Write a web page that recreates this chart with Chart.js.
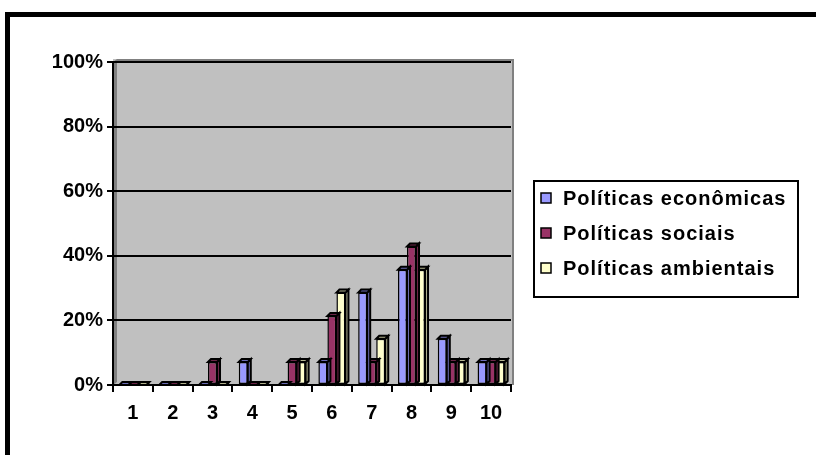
<!doctype html>
<html>

<head>
	<title>Políticas</title>
	<script src="https://cdn.jsdelivr.net/npm/chart.js@4/dist/chart.umd.min.js"></script>
	<style>
	body {
		margin: 0;
		background: #fff;
		overflow: hidden;
	}
	#frame {
		position: absolute;
		left: 5px;
		top: 12px;
		width: 900px;
		height: 600px;
		border: 5px solid #000;
	}
	#wrap {
		position: absolute;
		left: 0;
		top: 0;
		width: 816px;
		height: 455px;
	}
	</style>
</head>

<body>
	<div id="frame"></div>
	<div id="wrap"><canvas id="canvas" width="816" height="455"></canvas></div>
	<script>
		const categories = ['1', '2', '3', '4', '5', '6', '7', '8', '9', '10'];
		const economicas = [0, 0, 0, 7.1, 0, 7.1, 28.6, 35.7, 14.3, 7.1];
		const sociais = [0, 0, 7.1, 0, 7.1, 21.4, 7.1, 42.9, 7.1, 7.1];
		const ambientais = [0, 0, 0, 0, 7.1, 28.6, 14.3, 35.7, 7.1, 7.1];
		const seriesLabels = ['Políticas econômicas', 'Políticas sociais', 'Políticas ambientais'];
		const seriesColors = ['#9999FF', '#993366', '#FFFFCC'];

		const FONT = '"Liberation Sans", Arial, sans-serif';

		function shade(hex, f) {
			const n = parseInt(hex.slice(1), 16);
			const r = Math.round(((n >> 16) & 255) * f);
			const g = Math.round(((n >> 8) & 255) * f);
			const b = Math.round((n & 255) * f);
			return 'rgb(' + r + ',' + g + ',' + b + ')';
		}

		// grey walls behind the plot, like the old 3D column charts
		const wallPlugin = {
			id: 'wall',
			beforeDraw(chart) {
				const {ctx, chartArea: a} = chart;
				const d = 4;
				ctx.save();
				ctx.fillStyle = '#C0C0C0';
				ctx.fillRect(a.left, a.top - 3, a.right - a.left + 2, a.bottom - a.top + 3);
				ctx.fillStyle = '#808080';
				ctx.beginPath();
				ctx.moveTo(a.left, a.top);
				ctx.lineTo(a.left + d, a.top - 3);
				ctx.lineTo(a.left + d, a.bottom - 3);
				ctx.lineTo(a.left, a.bottom);
				ctx.closePath();
				ctx.fill();
				ctx.strokeStyle = '#808080';
				ctx.lineWidth = 2;
				ctx.beginPath();
				ctx.moveTo(a.left + d, a.top - 2);
				ctx.lineTo(a.right + 2, a.top - 2);
				ctx.lineTo(a.right + 2, a.bottom);
				ctx.stroke();
				ctx.restore();
			}
		};

		// top and side faces of each column
		const depthPlugin = {
			id: 'depth',
			afterDatasetDraw(chart, args) {
				const ctx = chart.ctx;
				const d = 3;
				const col = chart.data.datasets[args.index].backgroundColor;
				const dark = shade(col, 0.7);
				ctx.save();
				ctx.lineWidth = 2;
				ctx.strokeStyle = '#000';
				ctx.lineJoin = 'miter';
				args.meta.data.forEach(bar => {
					const p = bar.getProps(['x', 'y', 'base', 'width'], true);
					const l = p.x - p.width / 2;
					const r = p.x + p.width / 2;
					ctx.fillStyle = dark;
					ctx.beginPath();
					ctx.moveTo(r, p.y);
					ctx.lineTo(r + d, p.y - d);
					ctx.lineTo(r + d, p.base - d);
					ctx.lineTo(r, p.base);
					ctx.closePath();
					ctx.fill();
					ctx.stroke();
					ctx.beginPath();
					ctx.moveTo(l, p.y);
					ctx.lineTo(l + d, p.y - d);
					ctx.lineTo(r + d, p.y - d);
					ctx.lineTo(r, p.y);
					ctx.closePath();
					ctx.fill();
					ctx.stroke();
				});
				ctx.restore();
			}
		};

		// boxed legend on the right
		const legendPlugin = {
			id: 'boxLegend',
			afterDraw(chart) {
				const {ctx, chartArea: a} = chart;
				const left = a.right + 23;
				const top = 181;
				ctx.save();
				ctx.lineWidth = 2;
				ctx.strokeStyle = '#000';
				ctx.strokeRect(left, top, 264, 116);
				ctx.font = 'bold 20px ' + FONT;
				ctx.letterSpacing = '1px';
				ctx.textBaseline = 'alphabetic';
				chart.data.datasets.forEach((ds, i) => {
					const cy = top + 17 + i * 35;
					ctx.fillStyle = ds.backgroundColor;
					ctx.fillRect(left + 7, cy - 5, 10, 10);
					ctx.lineWidth = 1.5;
					ctx.strokeRect(left + 7, cy - 5, 10, 10);
					ctx.fillStyle = '#000';
					ctx.fillText(ds.label, left + 29, cy + 7);
				});
				ctx.restore();
			}
		};

		const ctx = document.getElementById('canvas').getContext('2d');
		window.myChart = new Chart(ctx, {
			type: 'bar',
			data: {
				labels: categories,
				datasets: [economicas, sociais, ambientais].map((values, i) => ({
					label: seriesLabels[i],
					data: values,
					backgroundColor: seriesColors[i],
					borderColor: '#000',
					borderWidth: 1.5,
					borderSkipped: false,
					categoryPercentage: 0.68,
					barPercentage: 1
				}))
			},
			options: {
				responsive: false,
				animation: false,
				layout: {
					padding: {top: 62, right: 305, bottom: 0, left: 0}
				},
				plugins: {
					legend: {display: false},
					tooltip: {enabled: false}
				},
				scales: {
					x: {
						grid: {
							offset: true,
							drawOnChartArea: false,
							color: '#000',
							lineWidth: 2,
							tickLength: 7
						},
						border: {color: '#000', width: 2},
						ticks: {
							color: '#000',
							padding: 9,
							maxRotation: 0,
							font: {family: FONT, size: 20, weight: 'bold'}
						},
						afterFit(scale) {
							scale.height = 70;
						}
					},
					y: {
						min: 0,
						max: 100,
						grid: {
							color: '#000',
							lineWidth: 2,
							tickLength: 6
						},
						border: {color: '#000', width: 2},
						ticks: {
							stepSize: 20,
							color: '#000',
							padding: 4,
							font: {family: FONT, size: 20, weight: 'bold'},
							callback: v => v + '%'
						},
						afterFit(scale) {
							scale.width = 113;
						}
					}
				}
			},
			plugins: [wallPlugin, depthPlugin, legendPlugin]
		});
	</script>
</body>

</html>
